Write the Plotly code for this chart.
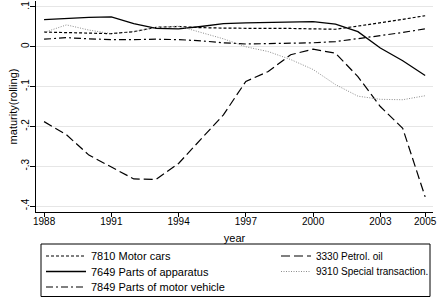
import plotly.graph_objects as go

years = list(range(1988, 2006))

motor_cars = [0.037, 0.036, 0.034, 0.033, 0.038, 0.049, 0.051, 0.048, 0.047,
              0.046, 0.046, 0.046, 0.045, 0.044, 0.052, 0.060, 0.069, 0.078]
petrol_oil = [-0.188, -0.221, -0.272, -0.301, -0.332, -0.333, -0.293, -0.232, -0.171,
              -0.087, -0.062, -0.020, -0.006, -0.016, -0.075, -0.150, -0.205, -0.377]
parts_apparatus = [0.068, 0.071, 0.074, 0.075, 0.058, 0.046, 0.045, 0.051, 0.058,
                   0.060, 0.061, 0.062, 0.063, 0.057, 0.038, -0.003, -0.035, -0.072]
special_trans = [0.036, 0.055, 0.042, 0.033, 0.038, 0.048, 0.052, 0.036, 0.020,
                 0.000, -0.012, -0.032, -0.057, -0.095, -0.124, -0.132, -0.133, -0.123]
parts_vehicle = [0.019, 0.023, 0.020, 0.018, 0.018, 0.019, 0.018, 0.015, 0.010,
                 0.007, 0.008, 0.009, 0.010, 0.013, 0.020, 0.028, 0.036, 0.045]

x_ticks = [1988, 1991, 1994, 1997, 2000, 2003, 2005]
y_ticks = [-0.4, -0.3, -0.2, -0.1, 0, 0.1]
y_ticklabels = ["-.4", "-.3", "-.2", "-.1", "0", ".1"]

W, H = 439, 298
L, R, T, B = 36, 6, 1, 86
pw, ph = W - L - R, H - T - B

def px2paper_x(px):
    return (px - L) / pw

def px2paper_y(py):
    return (H - B - py) / ph

# name, values, colour, dash, width, legend id, legend x(px), legend y(px), font size, itemwidth
series = [
    ("7810 Motor cars", motor_cars, "black", "3px,2px", 1.2, "legend", 41, 256, 11, 40),
    ("7649 Parts of apparatus", parts_apparatus, "black", "solid", 1.3, "legend2", 41, 271.5, 11, 40),
    ("7849 Parts of motor vehicle", parts_vehicle, "black", "7px,3px,2px,3px", 1.2, "legend3", 41, 287, 11, 40),
    ("3330 Petrol. oil", petrol_oil, "black", "9px,4px", 1.2, "legend4", 276, 256, 10, 30),
    ("9310 Special transaction.", special_trans, "#8c8c8c", "1px,1.5px", 1.0, "legend5", 276, 271.5, 10, 30),
]

fig = go.Figure()
legend_layouts = {}
for name, vals, col, dash, lw, lg, lx, ly, fs, iw in series:
    fig.add_trace(go.Scatter(
        x=years, y=vals, mode="lines", name=name,
        line=dict(color=col, dash=dash, width=lw),
        legend=lg, showlegend=True,
    ))
    legend_layouts[lg] = dict(
        x=px2paper_x(lx), y=px2paper_y(ly), xanchor="left", yanchor="middle",
        orientation="v", bgcolor="rgba(0,0,0,0)", borderwidth=0,
        font=dict(family="Liberation Sans, Arial, sans-serif", size=fs, color="black"),
        itemwidth=iw,
    )

fig.update_layout(
    width=W, height=H,
    margin=dict(l=L, r=R, t=T, b=B, autoexpand=False),
    paper_bgcolor="white", plot_bgcolor="white",
    font=dict(family="Liberation Sans, Arial, sans-serif", size=10, color="black"),
    xaxis=dict(
        range=[1987.64, 2005.35], tickvals=x_ticks, ticktext=[str(v) for v in x_ticks],
        showgrid=False, zeroline=False, showline=True, linecolor="black", linewidth=1,
        ticks="outside", ticklen=4, tickcolor="black", ticklabelstandoff=-4,
        title=dict(text="year", font=dict(size=11), standoff=8),
    ),
    yaxis=dict(
        range=[-0.415, 0.115], tickvals=y_ticks, ticktext=y_ticklabels, tickangle=-90,
        showgrid=True, gridcolor="#e6e6e6", gridwidth=1, zeroline=False,
        showline=True, linecolor="black", linewidth=1,
        ticks="outside", ticklen=5, tickcolor="black", ticklabelstandoff=-3,
        title=dict(text="maturity(rolling)", font=dict(size=11), standoff=0),
    ),
    shapes=[dict(
        type="rect", xref="paper", yref="paper",
        x0=px2paper_x(41), x1=px2paper_x(430), y0=px2paper_y(244), y1=px2paper_y(296.5),
        line=dict(color="black", width=1), fillcolor="rgba(0,0,0,0)",
    )],
    **legend_layouts,
)

fig.write_html("out.html", config={"displayModeBar": False},
               post_script="document.body.style.margin='0';")
